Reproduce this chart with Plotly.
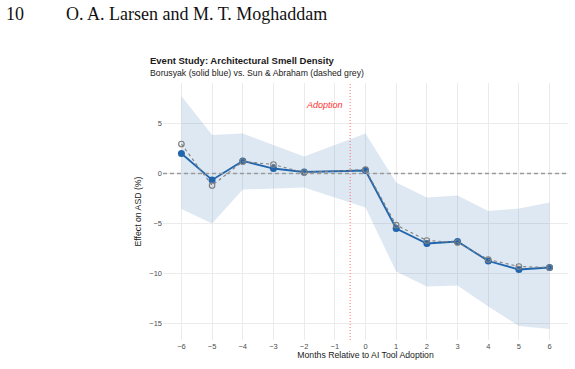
import plotly.graph_objects as go

# ---- data ----
months = [-6, -5, -4, -3, -2, 0, 1, 2, 3, 4, 5, 6]
borusyak = [2.0, -0.65, 1.25, 0.5, 0.15, 0.3, -5.5, -7.0, -6.8, -8.75, -9.6, -9.4]
ci_upper = [7.75, 3.85, 4.0, 2.85, 1.7, 4.0, -0.9, -2.4, -2.2, -3.75, -3.5, -2.9]
ci_lower = [-3.55, -5.0, -1.6, -1.5, -1.4, -3.4, -9.8, -11.3, -11.2, -13.3, -15.25, -15.55]
sun_abraham = [2.95, -1.2, 1.2, 0.9, 0.1, 0.4, -5.15, -6.7, -6.9, -8.6, -9.3, -9.4]
x_ticks = list(range(-6, 7))
y_ticks = [-15, -10, -5, 0, 5]

W, H = 575, 369
L, R, T, B = 163, 7, 83, 29
plot_h = H - T - B
SANS = "Liberation Sans, Arial, sans-serif"

def py(ypix):
    return (H - B - ypix) / plot_h

def px(xpix):
    return (xpix - L) / (W - L - R)

fig = go.Figure()

# CI ribbon
fig.add_trace(go.Scatter(x=months, y=ci_upper, mode="lines", line=dict(width=0),
                         hoverinfo="skip", showlegend=False))
fig.add_trace(go.Scatter(x=months, y=ci_lower, mode="lines", line=dict(width=0),
                         fill="tonexty", fillcolor="rgba(33,102,172,0.15)",
                         hoverinfo="skip", showlegend=False))

# reference lines
fig.add_hline(y=0, line=dict(color="#9a9a9a", width=1.4, dash="4px,3px"))
fig.add_vline(x=-0.5, line=dict(color="rgba(255,70,70,0.75)", width=1, dash="1px,2px"))

# Borusyak (solid blue)
fig.add_trace(go.Scatter(x=months, y=borusyak, mode="lines+markers",
                         line=dict(color="#2166ac", width=1.8),
                         marker=dict(color="#2166ac", size=7),
                         showlegend=False))

# Sun & Abraham (dashed grey)
fig.add_trace(go.Scatter(x=months, y=sun_abraham, mode="lines+markers",
                         line=dict(color="#7f7f7f", width=1.1, dash="3px,3px"),
                         marker=dict(symbol="circle-open", color="#7f7f7f", size=5.5,
                                     line=dict(width=1.2)),
                         showlegend=False))

fig.add_annotation(x=-0.5, y=6.9, xref="x", yref="y", text="<i>Adoption</i>",
                   showarrow=False, xanchor="right", xshift=-5,
                   font=dict(family=SANS, size=9, color="#ff3030"))

# titles
fig.add_annotation(x=px(148), y=py(60), xref="paper", yref="paper",
                   text="<b>Event Study: Architectural Smell Density</b>",
                   showarrow=False, xanchor="left", yanchor="middle",
                   font=dict(family=SANS, size=9.5, color="#1a1a1a"))
fig.add_annotation(x=px(148), y=py(73), xref="paper", yref="paper",
                   text="Borusyak (solid blue) vs. Sun &amp; Abraham (dashed grey)",
                   showarrow=False, xanchor="left", yanchor="middle",
                   font=dict(family=SANS, size=8.7, color="#1a1a1a"))

# page header
SERIF = "Liberation Serif, Times New Roman, serif"
fig.add_annotation(x=px(4), y=py(14), xref="paper", yref="paper", text="10",
                   showarrow=False, xanchor="left", yanchor="middle",
                   font=dict(family=SERIF, size=18, color="#111111"))
fig.add_annotation(x=px(64), y=py(14), xref="paper", yref="paper",
                   text="O. A. Larsen and M. T. Moghaddam",
                   showarrow=False, xanchor="left", yanchor="middle",
                   font=dict(family=SERIF, size=18, color="#111111"))

fig.update_layout(
    width=W, height=H,
    margin=dict(l=L, r=R, t=T, b=B),
    paper_bgcolor="white", plot_bgcolor="white",
    font=dict(family=SANS),
    xaxis=dict(range=[-6.6, 6.6], tickvals=x_ticks,
               ticktext=[str(v).replace("-", "\u2212") for v in x_ticks],
               showgrid=True, gridcolor="#ebebeb", gridwidth=1, zeroline=False,
               showline=False, ticks="",
               tickfont=dict(family=SANS, size=7.5, color="#4d4d4d"),
               title=dict(text="Months Relative to AI Tool Adoption",
                          font=dict(family=SANS, size=8.7, color="#1a1a1a"),
                          standoff=2)),
    yaxis=dict(range=[-16.65, 9.05], tickvals=y_ticks,
               ticktext=[str(v).replace("-", "\u2212") for v in y_ticks],
               showgrid=True, gridcolor="#ebebeb", gridwidth=1, zeroline=False,
               showline=False, ticks="",
               tickfont=dict(family=SANS, size=7.5, color="#4d4d4d"),
               title=dict(text="Effect on ASD (%)",
                          font=dict(family=SANS, size=8.7, color="#1a1a1a"),
                          standoff=6)),
)

fig.write_html("out.html")
